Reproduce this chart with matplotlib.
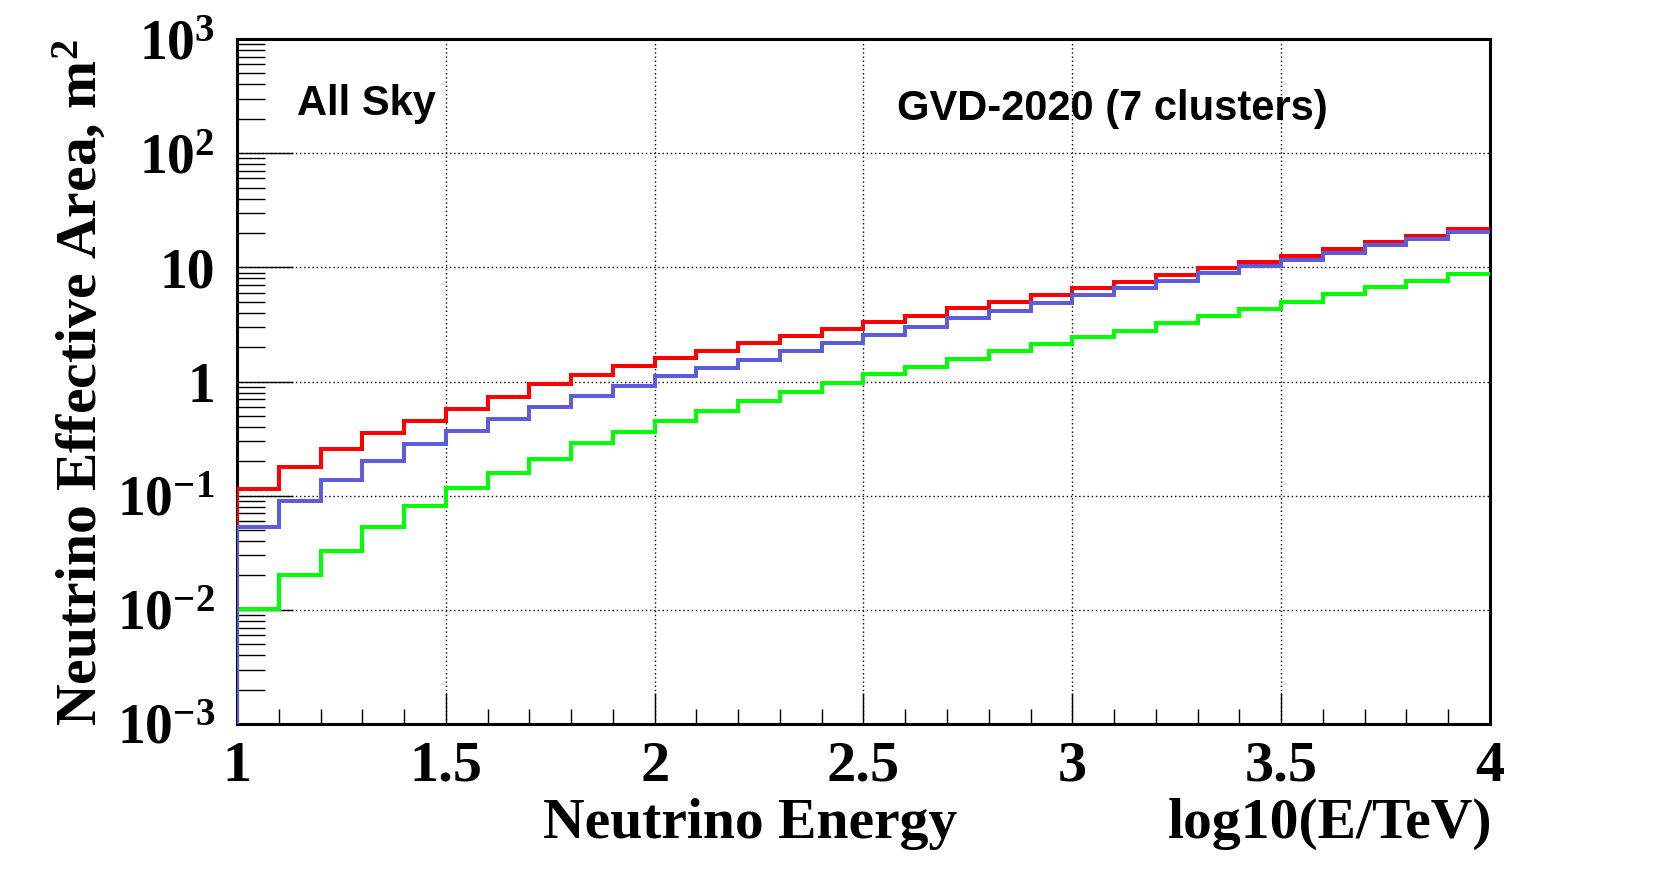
import numpy as np
import matplotlib
matplotlib.use("Agg")
import matplotlib.pyplot as plt
from matplotlib.ticker import MultipleLocator, LogLocator, FixedLocator, FixedFormatter, NullFormatter

# --- dane: log10(E/TeV), 30 binow po 0.1 ---
edges = np.linspace(1.0, 4.0, 31)

area_red = [0.114, 0.177, 0.255, 0.352, 0.455, 0.58, 0.738, 0.95, 1.14, 1.36,
            1.60, 1.84, 2.17, 2.50, 2.88, 3.31, 3.74, 4.37, 4.96, 5.71,
            6.58, 7.43, 8.57, 9.86, 11.1, 12.6, 14.5, 16.8, 19.0, 21.7]
area_blue = [0.0527, 0.089, 0.137, 0.203, 0.284, 0.367, 0.468, 0.60, 0.75, 0.91,
             1.11, 1.31, 1.54, 1.84, 2.17, 2.55, 2.99, 3.62, 4.17, 4.86,
             5.71, 6.58, 7.59, 8.91, 10.3, 11.6, 13.3, 15.7, 17.7, 20.4]
area_green = [0.0102, 0.020, 0.033, 0.0527, 0.082, 0.117, 0.159, 0.211, 0.288, 0.36,
              0.449, 0.55, 0.67, 0.805, 0.966, 1.16, 1.35, 1.56, 1.84, 2.12,
              2.45, 2.76, 3.25, 3.74, 4.31, 4.96, 5.83, 6.72, 7.59, 8.8]

y_ticks = [1e-3, 1e-2, 1e-1, 1, 10, 1e2, 1e3]
y_tick_labels = [r"$10^{-3}$", r"$10^{-2}$", r"$10^{-1}$", "1", "10", r"$10^{2}$", r"$10^{3}$"]
x_ticks = [1, 1.5, 2, 2.5, 3, 3.5, 4]
x_tick_labels = ["1", "1.5", "2", "2.5", "3", "3.5", "4"]

YMIN, YMAX = 1e-3, 1e3

plt.rcParams["font.family"] = ["Liberation Serif", "DejaVu Serif"]
plt.rcParams["font.weight"] = "bold"
plt.rcParams["mathtext.fontset"] = "custom"
plt.rcParams["mathtext.rm"] = "Liberation Serif:bold"
plt.rcParams["mathtext.bf"] = "Liberation Serif:bold"
plt.rcParams["mathtext.it"] = "Liberation Serif:bold"

W, H = 1656, 894
fig = plt.figure(figsize=(W / 100, H / 100), dpi=100)
ax = fig.add_axes([237 / W, 1 - 724 / H, (1490 - 237) / W, (724 - 39) / H])

# histogramy (czerwony, zielony, niebieski na wierzchu)
for vals, col in [(area_red, "#ff0000"), (area_green, "#00ff00"), (area_blue, "#5c5cdc")]:
    ax.stairs(vals, edges, baseline=None, color=col, lw=2.9, zorder=3)
    ax.plot([edges[0], edges[0]], [YMIN, vals[0]], color=col, lw=2.9, zorder=3,
            solid_capstyle="butt")

ax.set_yscale("log")
ax.set_xlim(1, 4)
ax.set_ylim(YMIN, YMAX)

ax.xaxis.set_major_locator(FixedLocator(x_ticks))
ax.xaxis.set_major_formatter(FixedFormatter(x_tick_labels))
ax.xaxis.set_minor_locator(MultipleLocator(0.1))
ax.yaxis.set_major_locator(FixedLocator(y_ticks))
ax.yaxis.set_major_formatter(FixedFormatter(y_tick_labels))
ax.yaxis.set_minor_locator(LogLocator(base=10, subs=np.arange(2, 10), numticks=20))
ax.yaxis.set_minor_formatter(NullFormatter())

ax.tick_params(axis="x", which="major", direction="in", length=22, width=1.0, labelsize=42, pad=12)
ax.tick_params(axis="x", which="minor", direction="in", length=11, width=1.0)
ax.tick_params(axis="y", which="major", direction="in", length=40, width=1.0, labelsize=40, pad=16)
ax.tick_params(axis="y", which="minor", direction="in", length=20, width=1.0)

for s in ax.spines.values():
    s.set_linewidth(2.2)

ax.grid(True, which="major", color="black", lw=1.0, linestyle=(0, (1, 2)))

# napisy
fig.text(297 / W, 1 - 115 / H, "All Sky", family="Liberation Sans", weight="bold",
         fontsize=30, ha="left", va="baseline")
fig.text(897 / W, 1 - 120 / H, "GVD-2020 (7 clusters)", family="Liberation Sans", weight="bold",
         fontsize=30, ha="left", va="baseline")

fig.text(543 / W, 1 - 838 / H, "Neutrino Energy", fontsize=41.5, weight="bold",
         ha="left", va="baseline")
fig.text(1492 / W, 1 - 838 / H, "log10(E/TeV)", fontsize=41.5, weight="bold",
         ha="right", va="baseline")
fig.text(80 / W, 1 - 39 / H, r"Neutrino Effective Area, m$^{2}$", fontsize=41.5, weight="bold",
         rotation=90, ha="center", va="top")

fig.savefig("out.png", dpi=100)
